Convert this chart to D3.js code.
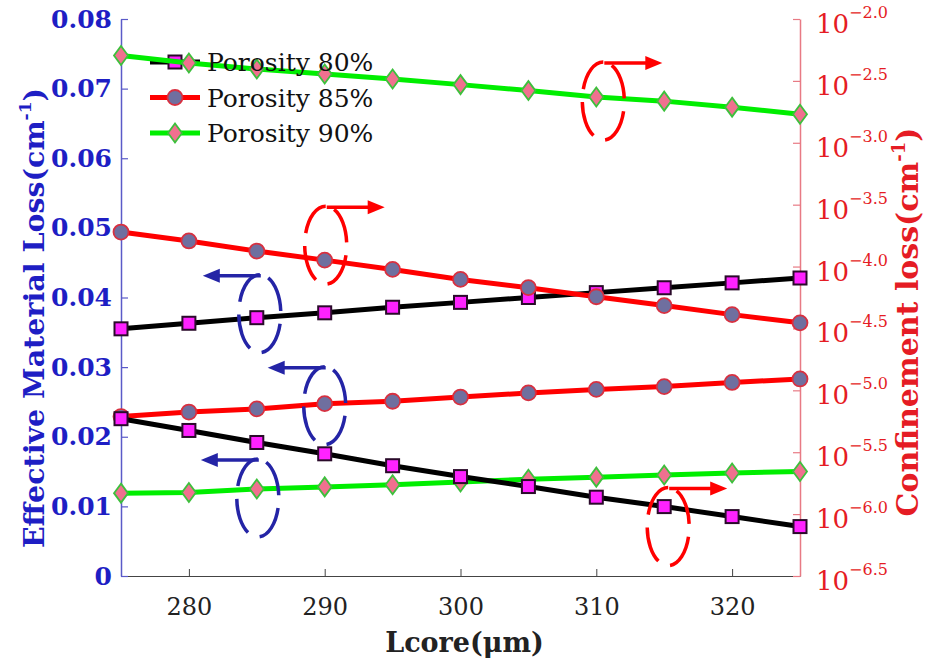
<!DOCTYPE html>
<html><head><meta charset="utf-8">
<script src="https://cdn.jsdelivr.net/npm/d3@7"></script>
<style>body{margin:0;background:#fff}svg{display:block}</style>
</head><body><svg id="c" width="929" height="668"></svg>
<script>
// ---------- data ----------
const lcore = [275,280,285,290,295,300,305,310,315,320,325];
// Effective material loss (left axis, cm^-1)
const emlP80 = [0.0355,0.0363,0.0371,0.0378,0.0386,0.0393,0.0400,0.0407,0.0414,0.0421,0.0428];
const emlP85 = [0.0229,0.02355,0.0240,0.02475,0.0251,0.0257,0.0263,0.0268,0.0272,0.0278,0.0283];
const emlP90 = [0.0119,0.0120,0.0125,0.0128,0.0131,0.0135,0.0139,0.0142,0.0145,0.0148,0.0150];
// Confinement loss (right axis, cm^-1)
const clP80 = [5.90e-6,4.74e-6,3.79e-6,3.07e-6,2.46e-6,2.01e-6,1.67e-6,1.37e-6,1.15e-6,9.55e-7,7.93e-7];
const clP85 = [1.90e-4,1.61e-4,1.334e-4,1.127e-4,9.48e-5,7.87e-5,6.75e-5,5.70e-5,4.84e-5,4.09e-5,3.51e-5];
const clP90 = [5.07e-3,4.41e-3,3.94e-3,3.59e-3,3.27e-3,2.95e-3,2.64e-3,2.34e-3,2.17e-3,1.94e-3,1.70e-3];
const seriesNames = ["Porosity 80%","Porosity 85%","Porosity 90%"];
const xTicks = [280,290,300,310,320];
const leftTicks = [0,0.01,0.02,0.03,0.04,0.05,0.06,0.07,0.08];
const rightTickExps = [-2.0,-2.5,-3.0,-3.5,-4.0,-4.5,-5.0,-5.5,-6.0,-6.5];
const xLabel = "Lcore(\u03bcm)";
const leftLabel = "Effective Material Loss(cm";
const rightLabel = "Confinement loss(cm";

// ---------- styles ----------
const FONT = "'DejaVu Serif', serif";
const styles = [
  {line:"#000000", fill:"#ff22ff", stroke:"#2a0a2a", shape:"square"},
  {line:"#ff0000", fill:"#6f6f9f", stroke:"#d83040", shape:"circle"},
  {line:"#00ee00", fill:"#f0708f", stroke:"#3cc03c", shape:"diamond"}
];
const BLUE = "#1e1ec4", BLUEAX = "#5a5ac8", RED = "#e51c24", REDAX = "#e87a84";

const svg = d3.select("#c");
const L = 121, R = 800, T = 19, B = 576;
const x = d3.scaleLinear().domain([275,325]).range([L,R]);
const yL = d3.scaleLinear().domain([0,0.08]).range([B,T]);
const yR = d3.scaleLog().domain([Math.pow(10,-6.5),Math.pow(10,-2)]).range([B,T]);

// ---------- axes ----------
const gx = svg.append("g").attr("transform",`translate(0,${B})`)
  .call(d3.axisBottom(x).tickValues(xTicks).tickSizeInner(-7).tickSizeOuter(0).tickPadding(22).tickFormat(d3.format("d")));
gx.select(".domain").attr("stroke","#444").attr("stroke-width",1.2);
gx.selectAll(".tick line").attr("stroke","#444");
gx.selectAll(".tick text").attr("font-family",FONT).attr("font-size",24).attr("fill","#222");

const gl = svg.append("g").attr("transform",`translate(${L},0)`)
  .call(d3.axisLeft(yL).tickValues(leftTicks).tickSizeInner(-7).tickSizeOuter(0).tickPadding(9)
    .tickFormat(d => d === 0 ? "0" : d3.format(".2f")(d)));
gl.select(".domain").attr("stroke",BLUEAX).attr("stroke-width",1.5);
gl.selectAll(".tick line").attr("stroke",BLUEAX).attr("stroke-width",1.2);
gl.selectAll(".tick text").attr("font-family",FONT).attr("font-size",25).attr("font-weight","bold").attr("fill",BLUE);

const gr = svg.append("g").attr("transform",`translate(${R},0)`)
  .call(d3.axisRight(yR).tickValues(rightTickExps.map(e=>Math.pow(10,e))).tickSizeInner(-7).tickSizeOuter(0).tickFormat(""));
gr.select(".domain").attr("stroke",REDAX).attr("stroke-width",1.5);
gr.selectAll(".tick line").attr("stroke",REDAX).attr("stroke-width",1.2);
gr.selectAll(".tick text").remove();
rightTickExps.forEach(e => {
  const t = svg.append("text").attr("x",R+16).attr("y",yR(Math.pow(10,e))+14)
    .attr("font-family",FONT).attr("fill",RED);
  t.append("tspan").attr("font-size",26).text("10");
  t.append("tspan").attr("font-size",16).attr("dy",-15).text("\u2212" + e.toFixed(1).replace("-",""));
});

// axis titles
svg.append("text").attr("x",(L+R)/2+4).attr("y",652).attr("text-anchor","middle")
  .attr("font-family",FONT).attr("font-weight","bold").attr("font-size",27).attr("fill","#222").text(xLabel);
function rotLabel(txt, cx, cy, color, size){
  const t = svg.append("text").attr("transform",`translate(${cx},${cy}) rotate(-90)`)
    .attr("text-anchor","middle").attr("font-family",FONT).attr("font-weight","bold").attr("font-size",size).attr("fill",color);
  t.append("tspan").text(txt);
  t.append("tspan").attr("font-size",size*0.6).attr("dy",-size*0.45).text("-1");
  t.append("tspan").attr("dy",size*0.45).text(")");
}
rotLabel(leftLabel, 44, 318, BLUE, 28.5);
rotLabel(rightLabel, 918, 322, RED, 30);

// ---------- markers ----------
function drawMarker(g, shape, cx, cy, st){
  if (shape === "square") {
    g.append("rect").attr("x",cx-6.5).attr("y",cy-6.5).attr("width",13).attr("height",13)
      .attr("fill",st.fill).attr("stroke",st.stroke).attr("stroke-width",2);
  } else if (shape === "circle") {
    g.append("circle").attr("cx",cx).attr("cy",cy).attr("r",7.5)
      .attr("fill",st.fill).attr("stroke",st.stroke).attr("stroke-width",1.8);
  } else {
    g.append("path").attr("d",`M${cx},${cy-9.5}L${cx+7},${cy}L${cx},${cy+9.5}L${cx-7},${cy}Z`)
      .attr("fill",st.fill).attr("stroke",st.stroke).attr("stroke-width",1.8);
  }
}

// ---------- legend (lines + markers) ----------
const legG = svg.append("g");
seriesNames.forEach((n,i) => {
  const yy = 62 + i*35.5;
  legG.append("line").attr("x1",150).attr("x2",200).attr("y1",yy).attr("y2",yy)
    .attr("stroke",styles[i].line).attr("stroke-width",5);
  drawMarker(legG, styles[i].shape, 175, yy, styles[i]);
});

// ---------- series ----------
const leftSeries = [emlP80, emlP85, emlP90];
const rightSeries = [clP80, clP85, clP90];
function drawSeries(vals, yScale, st){
  const pts = lcore.map((v,i)=>[v, vals[i]]);
  const g = svg.append("g");
  g.append("path").datum(pts)
    .attr("d", d3.line().x(d=>x(d[0])).y(d=>yScale(d[1])))
    .attr("fill","none").attr("stroke",st.line).attr("stroke-width",5).attr("stroke-linejoin","round");
  pts.forEach(p => drawMarker(g, st.shape, x(p[0]), yScale(p[1]), st));
}
leftSeries.forEach((s,i)=>drawSeries(s, yL, styles[i]));
rightSeries.forEach((s,i)=>drawSeries(s, yR, styles[i]));

// legend text on top
seriesNames.forEach((n,i) => {
  svg.append("text").attr("x",207).attr("y",62 + i*35.5 + 9)
    .attr("font-family",FONT).attr("font-size",25).attr("fill","#111").text(n);
});

// ---------- annotations (dashed ellipses + arrows) ----------
const notes = [
  {axis:"R", s:2, at:310, dir: 1, dx:7, dy:4},
  {axis:"R", s:1, at:290, dir: 1, dx:1, dy:-15},
  {axis:"L", s:0, at:285, dir:-1, dx:3, dy:-4},
  {axis:"L", s:1, at:290, dir:-1, dx:0, dy:2},
  {axis:"L", s:2, at:285, dir:-1, dx:1, dy:9},
  {axis:"R", s:0, at:315, dir: 1, dx:4, dy:20}
];
const annG = svg.append("g");
notes.forEach(n => {
  const idx = lcore.indexOf(n.at);
  const v = n.axis === "L" ? leftSeries[n.s][idx] : rightSeries[n.s][idx];
  const cx = x(n.at) + n.dx;
  const cy = (n.axis === "L" ? yL(v) : yR(v)) + n.dy;
  const rx = 21, ry = 39;
  const col = n.axis === "L" ? "#2424a6" : "#ff0000";
  annG.append("path")
    .attr("d",`M${cx},${cy-ry}A${rx},${ry} 0 1 0 ${cx},${cy+ry}A${rx},${ry} 0 1 0 ${cx},${cy-ry}`)
    .attr("fill","none").attr("stroke",col).attr("stroke-width",3.5)
    .attr("stroke-dasharray","36 13");
  const ay = cy - ry + 1;
  const x0 = cx + 1, x1 = x0 + n.dir*58;
  annG.append("line").attr("x1",x0).attr("x2",x1 - n.dir*14).attr("y1",ay).attr("y2",ay)
    .attr("stroke",col).attr("stroke-width",3.5);
  annG.append("path").attr("d",`M${x1},${ay}L${x1-n.dir*17},${ay-7}L${x1-n.dir*17},${ay+7}Z`).attr("fill",col);
});
</script></body></html>
